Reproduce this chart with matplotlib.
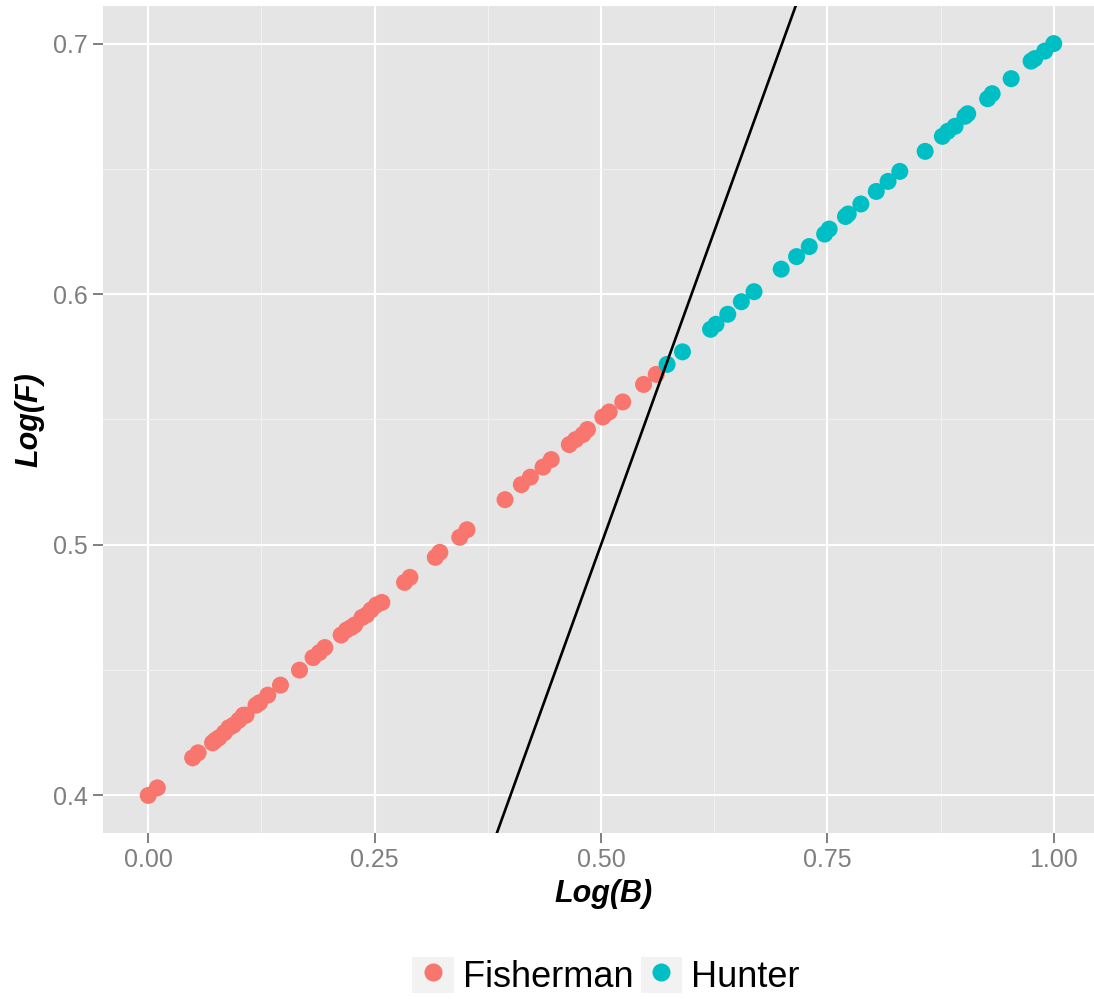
import matplotlib.pyplot as plt
import numpy as np
from matplotlib.patches import Patch
from matplotlib.lines import Line2D
from matplotlib.legend_handler import HandlerTuple

plt.rcParams['font.family'] = ['Liberation Sans', 'DejaVu Sans']

fisher_x = [0.000, 0.010, 0.049, 0.055, 0.071, 0.074, 0.078, 0.084, 0.089, 0.094,
            0.100, 0.105, 0.108, 0.119, 0.123, 0.132, 0.146, 0.167, 0.182, 0.189,
            0.195, 0.213, 0.219, 0.224, 0.228, 0.236, 0.241, 0.246, 0.252, 0.258,
            0.283, 0.289, 0.317, 0.322, 0.344, 0.352, 0.394, 0.412, 0.422, 0.436,
            0.445, 0.465, 0.472, 0.480, 0.485, 0.502, 0.509, 0.524, 0.547, 0.561]
fisher_y = [0.400, 0.403, 0.415, 0.417, 0.421, 0.422, 0.423, 0.425, 0.427, 0.428,
            0.430, 0.432, 0.432, 0.436, 0.437, 0.440, 0.444, 0.450, 0.455, 0.457,
            0.459, 0.464, 0.466, 0.467, 0.468, 0.471, 0.472, 0.474, 0.476, 0.477,
            0.485, 0.487, 0.495, 0.497, 0.503, 0.506, 0.518, 0.524, 0.527, 0.531,
            0.534, 0.540, 0.542, 0.544, 0.546, 0.551, 0.553, 0.557, 0.564, 0.568]
hunter_x = [0.573, 0.590, 0.621, 0.627, 0.640, 0.655, 0.669, 0.699, 0.716, 0.730,
            0.747, 0.752, 0.770, 0.773, 0.787, 0.804, 0.817, 0.830, 0.858, 0.877,
            0.883, 0.891, 0.902, 0.905, 0.927, 0.932, 0.953, 0.975, 0.979, 0.990, 1.000]
hunter_y = [0.572, 0.577, 0.586, 0.588, 0.592, 0.597, 0.601, 0.610, 0.615, 0.619,
            0.624, 0.626, 0.631, 0.632, 0.636, 0.641, 0.645, 0.649, 0.657, 0.663,
            0.665, 0.667, 0.671, 0.672, 0.678, 0.680, 0.686, 0.693, 0.694, 0.697, 0.700]

groups = ["Fisherman", "Hunter"]
colors = ["#F8766D", "#00BFC4"]
x_ticks = [0.00, 0.25, 0.50, 0.75, 1.00]
y_ticks = [0.4, 0.5, 0.6, 0.7]

fig = plt.figure(figsize=(10.94, 9.99), dpi=100)
ax = fig.add_axes([103/1094, 1 - 833/999, (1099 - 103)/1094, (833 - 6)/999])
ax.set_facecolor("#E5E5E5")
for s in ax.spines.values():
    s.set_visible(False)

ax.set_xlim(-0.05, 1.05)
ax.set_ylim(0.385, 0.715)
ax.set_xticks(x_ticks)
ax.set_xticklabels(["%.2f" % v for v in x_ticks])
ax.set_yticks(y_ticks)
ax.set_yticklabels(["%.1f" % v for v in y_ticks])
ax.set_xticks([0.125, 0.375, 0.625, 0.875], minor=True)
ax.set_yticks([0.45, 0.55, 0.65], minor=True)
ax.grid(which="major", color="white", linewidth=1.5)
ax.grid(which="minor", color="#F2F2F2", linewidth=0.7)
ax.set_axisbelow(True)
ax.tick_params(which="major", colors="#7F7F7F", labelsize=18, length=7, width=1.4, pad=4)
ax.tick_params(which="minor", length=0)

ax.scatter(fisher_x, fisher_y, s=150, color=colors[0], edgecolors="none", zorder=3)
ax.scatter(hunter_x, hunter_y, s=150, color=colors[1], edgecolors="none", zorder=3)
ax.axline((0, 0), slope=1, color="black", linewidth=1.9, zorder=4)

ax.set_xlabel("Log(B)", fontsize=22, fontweight="bold", style="italic")
ax.set_ylabel("Log(F)", fontsize=22, fontweight="bold", style="italic", labelpad=6)
ax.xaxis.set_label_coords((604 - 103)/(1099 - 103), -(879 - 833)/827)

handles = [(Patch(facecolor="#F2F2F2", edgecolor="none"),
            Line2D([], [], marker="o", ls="", color=c, markersize=13, markeredgewidth=0))
           for c in colors]
fig.legend(handles, groups, loc="center", bbox_to_anchor=(606/1094, 1 - 976/999),
           ncol=2, frameon=False, fontsize=26, handler_map={tuple: HandlerTuple(ndivide=1, pad=0)},
           handlelength=1.15, handleheight=1.15, handletextpad=0.25, columnspacing=0.2)

fig.savefig("out.png", dpi=100)
